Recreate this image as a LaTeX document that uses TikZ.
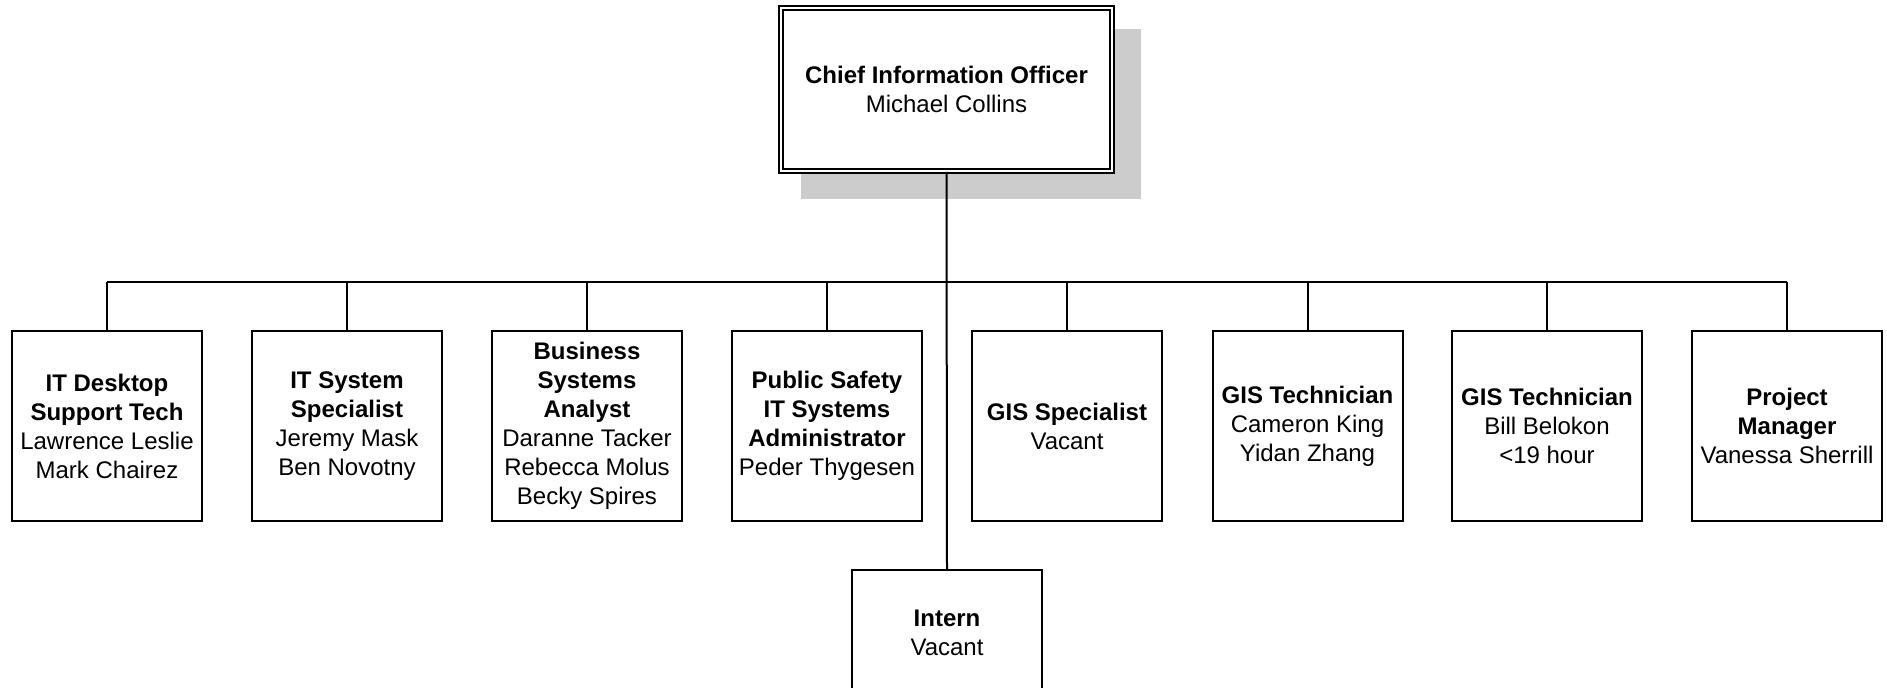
\documentclass[tikz,border=0pt]{standalone}
\usepackage{fontspec}
\setmainfont{Liberation Sans}
\usetikzlibrary{positioning,backgrounds}
\definecolor{shadegray}{RGB}{204,204,204}

\tikzset{
    post/.style={draw, line width=1pt, fill=white, align=center,
        minimum width=95pt, minimum height=95pt, inner sep=2pt,
        font=\fontsize{12}{14.5}\selectfont},
    chief/.style={post, draw, double, double distance=1pt, line width=1pt,
        minimum width=165.5pt, minimum height=81.5pt},
    link/.style={line width=1pt}
}

\begin{document}
\begin{tikzpicture}[x=0.5pt, y=-0.5pt]
    \useasboundingbox (0,0) rectangle (1887,688);

    % top of the chart
    \node[chief] (cio) at (946.5,89.5) {\textbf{Chief Information Officer}\\Michael Collins};
    \begin{scope}[on background layer]
        \fill[shadegray] ([shift={(21,27)}]cio.south west) rectangle ([shift={(28,22)}]cio.north east);
    \end{scope}

    % direct reports
    \node[post] (desk) at (107,426) {\textbf{IT Desktop}\\\textbf{Support Tech}\\Lawrence Leslie\\Mark Chairez};
    \node[post] (sysspec) at (347,426) {\textbf{IT System}\\\textbf{Specialist}\\Jeremy Mask\\Ben Novotny};
    \node[post] (bsa) at (587,426) {\textbf{Business}\\\textbf{Systems}\\\textbf{Analyst}\\Daranne Tacker\\Rebecca Molus\\Becky Spires};
    \node[post] (psa) at (827,426) {\textbf{Public Safety}\\\textbf{IT Systems}\\\textbf{Administrator}\\Peder Thygesen};
    \node[post] (gisspec) at (1067,426) {\textbf{GIS Specialist}\\Vacant};
    \node[post] (gistech) at (1307.5,426) {\textbf{GIS Technician}\\Cameron King\\Yidan Zhang};
    \node[post] (gistechb) at (1547,426) {\textbf{GIS Technician}\\Bill Belokon\\<19 hour};
    \node[post] (pm) at (1787,426) {\textbf{Project}\\\textbf{Manager}\\Vanessa Sherrill};

    \node[post, minimum height=63pt] (intern) at (947,633) {\textbf{Intern}\\Vacant};

    % bus line
    \coordinate (busl) at (107,282);
    \coordinate (busr) at (1787,282);
    \draw[link] (busl) -- (busr);
    \foreach \n in {desk,sysspec,bsa,psa,gisspec,gistech,gistechb,pm}
        \draw[link] (\n.north) -- (\n.north |- busl);
    \draw[link] (cio.south) -- (intern.north);
\end{tikzpicture}
\end{document}
